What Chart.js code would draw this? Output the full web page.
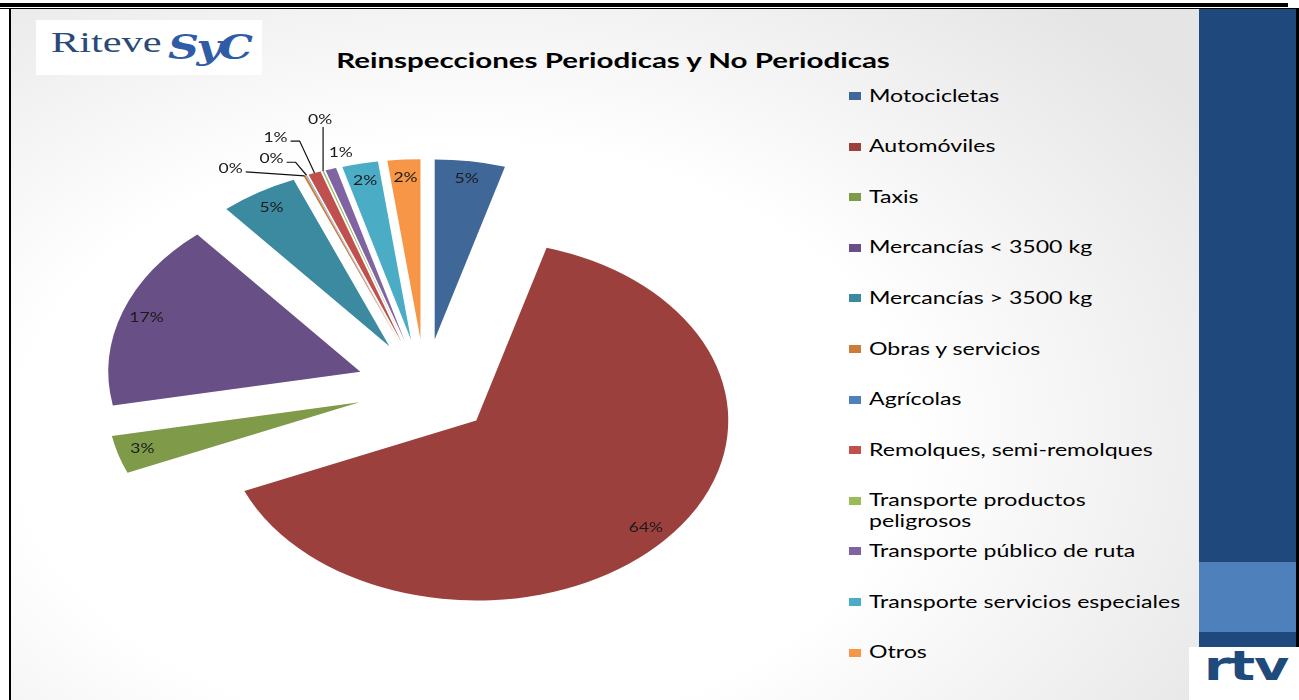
<!DOCTYPE html>
<html><head><meta charset="utf-8">
<script src="https://cdn.jsdelivr.net/npm/chart.js@4.4.1/dist/chart.umd.min.js"></script>
<style>
html,body{margin:0;padding:0;width:1299px;height:700px;overflow:hidden;background:#fff;font-family:Lato,"Open Sans",sans-serif;}
.abs{position:absolute;}
#slide{left:11px;top:9px;width:1188px;height:691px;background:radial-gradient(ellipse 75% 85% at 38% 62%,#ffffff 50%,#e5e5e5 100%);}
#lineThick{left:0;top:3px;width:1288px;height:4px;background:#000;}
#lineThin{left:0;top:8px;width:1299px;height:1px;background:#000;}
#lineLeft{left:9px;top:8px;width:2px;height:692px;background:#000;}
#panel{left:1199px;top:9px;width:97px;height:691px;background:#1f497c;}
#panelBand{left:1199px;top:562px;width:97px;height:70px;background:#4e80bc;}
#panelEdge{left:1296px;top:8px;width:3px;height:640px;background:#000;}
#logo{left:36px;top:20px;width:226px;height:55px;background:#fff;}
#logoA{left:51px;top:25px;font-family:"Liberation Serif",serif;font-size:29px;color:#2b4a78;transform:scaleX(1.46);transform-origin:0 0;line-height:34px;}
#logoB{left:168px;top:28px;font-family:"DejaVu Serif",serif;font-style:italic;font-weight:bold;font-size:33px;color:#2f5ca6;transform:scaleX(1.3);transform-origin:0 0;line-height:40px;letter-spacing:-2px;}
#rtvBox{left:1189px;top:647px;width:110px;height:53px;background:#fff;}
#rtv{left:1204px;top:641px;font-family:"DejaVu Sans",sans-serif;font-weight:bold;font-size:41px;color:#1f4a7c;transform:scaleX(1.32);transform-origin:0 0;line-height:50px;letter-spacing:-1px;}
#title{left:613px;top:47px;font-weight:bold;font-size:21px;line-height:26px;color:#000;white-space:nowrap;transform-origin:center center;transform:translateX(-50%) scaleX(1.405);}
.lgm{position:absolute;left:849px;width:12px;height:8px;}
.lgt{position:absolute;left:869px;width:226px;font-size:16.5px;line-height:21px;color:#000;transform:scaleX(1.4);transform-origin:0 0;}
#pie{position:absolute;left:0;top:0;}
</style></head><body>
<div id="slide" class="abs"></div>
<div id="lineThick" class="abs"></div>
<div id="lineThin" class="abs"></div>
<div id="lineLeft" class="abs"></div>
<div id="panel" class="abs"></div>
<div id="panelBand" class="abs"></div>
<div id="panelEdge" class="abs"></div>
<div id="logo" class="abs"></div>
<div id="logoA" class="abs">Riteve</div>
<div id="logoB" class="abs">SyC</div>
<div id="rtvBox" class="abs"></div>
<div id="rtv" class="abs">rtv</div>
<div id="title" class="abs"></div>
<div id="legend"></div>
<canvas id="pie" width="1299" height="700"></canvas>
<script>
// ---- data ----
const chartTitle = 'Reinspecciones Periodicas y No Periodicas';
const categories = [
  'Motocicletas', 'Automóviles', 'Taxis', 'Mercancías < 3500 kg', 'Mercancías > 3500 kg',
  'Obras y servicios', 'Agrícolas', 'Remolques, semi-remolques', 'Transporte productos peligrosos',
  'Transporte público de ruta', 'Transporte servicios especiales', 'Otros'
];
const sharePercent = [4.5, 64.1, 3.4, 16.8, 5.0, 0.15, 0.05, 0.8, 0.1, 0.7, 2.3, 2.1];

// ---- styles ----
const sliceColors = ['#3f6797', '#9c403d', '#7f9a48', '#684f86', '#3c8aa0', '#cc7b38',
                     '#4f81bd', '#c0504d', '#9bbb59', '#8064a2', '#4bacc6', '#f79646'];
const SX = 1.4;          // horizontal stretch of the slide
const EXPLODE = 0.272;   // explosion as share of radius
const LEGEND_TOP = 96, LEGEND_STEP = 50.6;
// label placement: null = inside end; otherwise offset from slice outer edge
const labelPlacement = [null, null, null, null, null,
  {dx: -74, dy: -7, leader: 'straight'},
  {dx: -35, dy: -16, leader: 'elbow'},
  {dx: -39, dy: -35, leader: 'elbow'},
  {dx: -3, dy: -51, leader: 'vertical'},
  {dx: 10, dy: -16, leader: 'none'},
  null, null];

document.getElementById('title').textContent = chartTitle;
const lg = document.getElementById('legend');
categories.forEach((c, i) => {
  const y = LEGEND_TOP + LEGEND_STEP * i;
  const m = document.createElement('div');
  m.className = 'lgm'; m.style.top = (y - 4) + 'px'; m.style.background = sliceColors[i];
  const t = document.createElement('div');
  t.className = 'lgt'; t.style.top = (y - 10.5) + 'px'; t.textContent = c;
  lg.appendChild(m); lg.appendChild(t);
});

const explodePlugin = {
  id: 'explode',
  beforeDatasetDraw(chart, args) {
    const ctx = chart.ctx;
    args.meta.data.forEach(arc => {
      const mid = (arc.startAngle + arc.endAngle) / 2;
      const e = arc.outerRadius * EXPLODE;
      ctx.save();
      ctx.translate(arc.x, arc.y);
      ctx.scale(SX, 1);
      ctx.translate(Math.cos(mid) * e, Math.sin(mid) * e);
      ctx.translate(-arc.x, -arc.y);
      arc.draw(ctx, chart.chartArea);
      ctx.restore();
    });
    return false;
  }
};

const labelPlugin = {
  id: 'sliceLabels',
  afterDatasetsDraw(chart) {
    const ctx = chart.ctx;
    const meta = chart.getDatasetMeta(0);
    const total = sharePercent.reduce((a, b) => a + b, 0);
    ctx.save();
    ctx.font = '12.5px Lato';
    ctx.textAlign = 'center';
    ctx.textBaseline = 'middle';
    meta.data.forEach((arc, i) => {
      const mid = (arc.startAngle + arc.endAngle) / 2;
      const r = arc.outerRadius;
      const e = r * EXPLODE;
      const tx = arc.x + Math.cos(mid) * e * SX, ty = arc.y + Math.sin(mid) * e;
      const text = Math.round(sharePercent[i] / total * 100) + '%';
      const hw = ctx.measureText(text).width * SX / 2;
      const p = labelPlacement[i];
      let lx, ly;
      if (!p) {
        lx = tx + Math.cos(mid) * r * 0.9 * SX;
        ly = ty + Math.sin(mid) * r * 0.9;
      } else {
        const px = tx + Math.cos(mid) * r * SX, py = ty + Math.sin(mid) * r;
        lx = px + p.dx; ly = py + p.dy;
        ctx.strokeStyle = '#111'; ctx.lineWidth = 1.2;
        ctx.beginPath();
        if (p.leader === 'vertical') {
          ctx.moveTo(px, ly + 7); ctx.lineTo(px, py);
        } else if (p.leader === 'elbow') {
          const sx = lx + hw + 3, sy = ly + 3;
          ctx.moveTo(sx, sy); ctx.lineTo(sx + 9, sy); ctx.lineTo(px, py);
        } else if (p.leader === 'straight') {
          ctx.moveTo(lx + hw + 3, ly + 3); ctx.lineTo(px, py);
        }
        ctx.stroke();
      }
      ctx.fillStyle = '#1a1a1a';
      ctx.save();
      ctx.translate(lx, ly);
      ctx.scale(SX, 1);
      ctx.fillText(text, 0, 0);
      ctx.restore();
    });
    ctx.restore();
  }
};

new Chart(document.getElementById('pie'), {
  type: 'pie',
  data: {
    labels: categories,
    datasets: [{ data: sharePercent, backgroundColor: sliceColors, borderWidth: 0 }]
  },
  options: {
    responsive: false,
    animation: false,
    events: [],
    layout: { padding: { left: 245, right: 694, top: 208, bottom: 132 } },
    plugins: { legend: { display: false }, title: { display: false }, tooltip: { enabled: false } }
  },
  plugins: [explodePlugin, labelPlugin]
});
</script>
</body></html>
